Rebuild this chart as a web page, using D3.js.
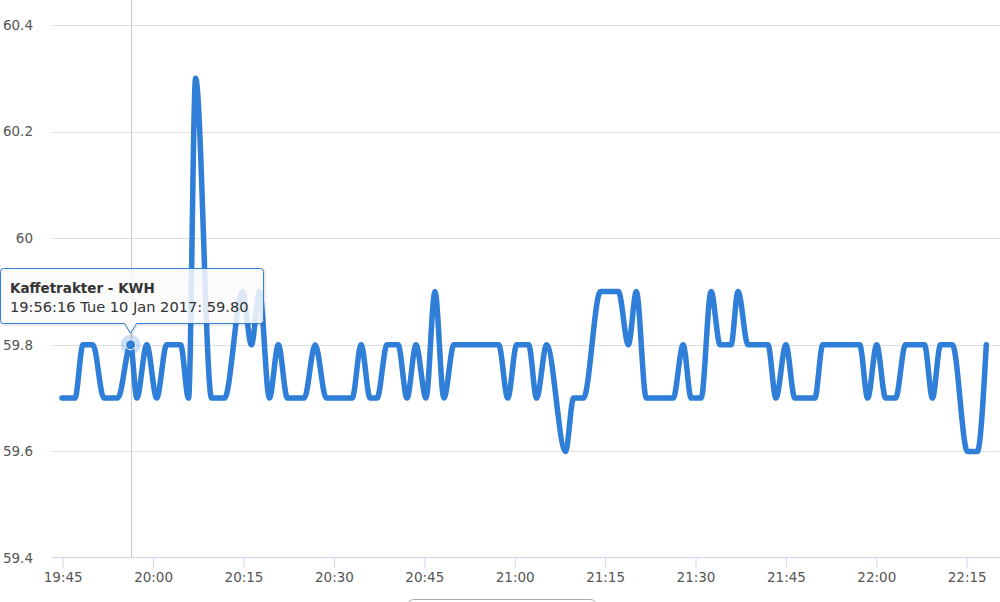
<!DOCTYPE html>
<html>
<head>
<meta charset="utf-8">
<script src="https://cdnjs.cloudflare.com/ajax/libs/d3/7.8.5/d3.min.js"></script>
<style>
    body { margin: 0; background: #fff; }
    #chart-area { width: 1000px; height: 602px; overflow: hidden; }
    text { font-family: "DejaVu Sans", sans-serif; }
</style>
</head>
<body>
<div id="chart-area"></div>
<script>
// Kaffetrakter - KWH, spline over time

////////// Data ///////////
var times = [
    "19:44:53", "19:47:02", "19:48:22", "19:50:01", "19:51:50", "19:54:09", "19:56:16", "19:57:18",
    "19:58:57", "20:00:36", "20:02:15", "20:04:34", "20:05:53", "20:07:03", "20:09:42", "20:11:51",
    "20:14:50", "20:16:19", "20:17:39", "20:19:18", "20:20:47", "20:22:17", "20:25:05", "20:26:54",
    "20:28:44", "20:33:02", "20:34:31", "20:36:01", "20:37:10", "20:38:49", "20:40:39", "20:42:08",
    "20:43:37", "20:45:17", "20:46:46", "20:48:15", "20:49:55", "20:57:21", "20:58:51", "21:00:20",
    "21:02:19", "21:03:38", "21:05:18", "21:08:26", "21:09:46", "21:11:25", "21:14:14", "21:17:12",
    "21:18:52", "21:20:11", "21:21:50", "21:26:18", "21:27:57", "21:29:17", "21:30:56", "21:32:35",
    "21:34:05", "21:35:54", "21:37:03", "21:38:43", "21:42:01", "21:43:21", "21:45:00", "21:46:29",
    "21:49:48", "21:51:07", "21:57:15", "21:58:34", "22:00:04", "22:01:33", "22:03:12", "22:04:51",
    "22:08:00", "22:09:19", "22:10:39", "22:12:38", "22:15:07", "22:16:46", "22:18:15"
];
var kwh = [
    59.7, 59.7, 59.8, 59.8, 59.7, 59.7, 59.8, 59.7,
    59.8, 59.7, 59.8, 59.8, 59.7, 60.3, 59.7, 59.7,
    59.9, 59.8, 59.9, 59.7, 59.8, 59.7, 59.7, 59.8,
    59.7, 59.7, 59.8, 59.7, 59.7, 59.8, 59.8, 59.7,
    59.8, 59.7, 59.9, 59.7, 59.8, 59.8, 59.7, 59.8,
    59.8, 59.7, 59.8, 59.6, 59.7, 59.7, 59.9, 59.9,
    59.8, 59.9, 59.7, 59.7, 59.8, 59.7, 59.7, 59.9,
    59.8, 59.8, 59.9, 59.8, 59.8, 59.7, 59.8, 59.7,
    59.7, 59.8, 59.8, 59.7, 59.8, 59.7, 59.7, 59.8,
    59.8, 59.7, 59.8, 59.8, 59.6, 59.6, 59.8
];
var yTicks = [59.4, 59.6, 59.8, 60, 60.2, 60.4];
var xTickLabels = ["19:45", "20:00", "20:15", "20:30", "20:45", "21:00", "21:15", "21:30", "21:45", "22:00", "22:15"];

var seriesName = "Kaffetrakter - KWH";
var hoverIndex = 6;

// helpers
var day = "2017-01-10T";
var parseTime = d3.timeParse("%Y-%m-%dT%H:%M:%S");
function toDate(s) { return parseTime(day + (s.length == 5 ? s + ":00" : s)); }

var data = times.map(function(t, i) {
    return { date: toDate(t), value: kwh[i] };
});

var width = 1000, height = 602;
var plotLeft = 52, plotRight = 1000;
var lineColor = "#2f7ed8";

//////////  Scales  ///////////
var x = d3.scaleTime()
    .domain([toDate("19:45"), toDate("22:15")])
    .range([62.7, 966.7]);

var y = d3.scaleLinear()
    .domain([59.4, 60.4])
    .range([558, 25]);

var svg = d3.select("#chart-area")
    .append("svg")
        .attr("width", width)
        .attr("height", height);

// Gridlines
svg.append("g")
    .attr("class", "grid")
    .selectAll("line")
    .data(yTicks.slice(1))
    .enter()
    .append("line")
        .attr("x1", plotLeft)
        .attr("x2", plotRight)
        .attr("y1", function(d){ return Math.round(y(d)) + 0.5; })
        .attr("y2", function(d){ return Math.round(y(d)) + 0.5; })
        .attr("stroke", "#e0e0e0")
        .attr("stroke-width", 1);

// Y labels
svg.append("g")
    .attr("class", "y-axis")
    .selectAll("text")
    .data(yTicks)
    .enter()
    .append("text")
        .attr("x", 33)
        .attr("y", function(d){ return y(d); })
        .attr("dy", "0.36em")
        .attr("text-anchor", "end")
        .attr("font-size", "13.5px")
        .attr("fill", "#555")
        .text(function(d){ return d3.format("")(d); });

// Crosshair behind the series
var hover = data[hoverIndex];
svg.append("line")
    .attr("x1", Math.round(x(hover.date)) + 0.5)
    .attr("x2", Math.round(x(hover.date)) + 0.5)
    .attr("y1", 0)
    .attr("y2", 558)
    .attr("stroke", "#c8c8c8")
    .attr("stroke-width", 1);

// X axis
var xAxisCall = d3.axisBottom(x)
    .tickValues(xTickLabels.map(toDate))
    .tickFormat(d3.timeFormat("%H:%M"))
    .tickSize(10)
    .tickPadding(5);

var xAxis = svg.append("g")
    .attr("class", "x axis")
    .attr("transform", "translate(0, 557.5)")
    .call(xAxisCall);

xAxis.select(".domain").remove();
xAxis.insert("line", ":first-child")
    .attr("x1", plotLeft)
    .attr("x2", plotRight)
    .attr("stroke", "#ccd6eb");
xAxis.selectAll(".tick line").attr("stroke", "#ccd6eb");
xAxis.selectAll(".tick text")
    .attr("font-family", "DejaVu Sans, sans-serif")
    .attr("font-size", "13.5px")
    .attr("fill", "#555");

// The series
var line = d3.line()
    .x(function(d){ return x(d.date); })
    .y(function(d){ return y(d.value); })
    .curve(d3.curveMonotoneX);

svg.append("path")
    .datum(data)
    .attr("d", line)
    .attr("fill", "none")
    .attr("stroke", lineColor)
    .attr("stroke-width", 5.5)
    .attr("stroke-linecap", "round")
    .attr("stroke-linejoin", "round");

// Hover halo and marker
svg.append("circle")
    .attr("cx", x(hover.date))
    .attr("cy", y(hover.value))
    .attr("r", 10)
    .attr("fill", lineColor)
    .attr("fill-opacity", 0.25);

svg.append("circle")
    .attr("cx", x(hover.date))
    .attr("cy", y(hover.value))
    .attr("r", 5)
    .attr("fill", lineColor)
    .attr("stroke", "#fff")
    .attr("stroke-width", 1);

// Tooltip
var tipX = x(hover.date), tipY = y(hover.value) - 12;
var box = { left: 0.5, top: 268.5, right: 263.5, bottom: 323.5, r: 3 };
var tipPath = "M" + (box.left + box.r) + "," + box.top +
    " L" + (box.right - box.r) + "," + box.top +
    " Q" + box.right + "," + box.top + " " + box.right + "," + (box.top + box.r) +
    " L" + box.right + "," + (box.bottom - box.r) +
    " Q" + box.right + "," + box.bottom + " " + (box.right - box.r) + "," + box.bottom +
    " L" + (tipX + 6) + "," + box.bottom +
    " L" + tipX + "," + (tipY + 0.5) +
    " L" + (tipX - 6) + "," + box.bottom +
    " L" + (box.left + box.r) + "," + box.bottom +
    " Q" + box.left + "," + box.bottom + " " + box.left + "," + (box.bottom - box.r) +
    " L" + box.left + "," + (box.top + box.r) +
    " Q" + box.left + "," + box.top + " " + (box.left + box.r) + "," + box.top + " Z";

var tip = svg.append("g").attr("class", "tooltip");
tip.append("path")
    .attr("d", tipPath)
    .attr("transform", "translate(1,1)")
    .attr("fill", "none")
    .attr("stroke", "rgba(0,0,0,0.08)")
    .attr("stroke-width", 3);
tip.append("path")
    .attr("d", tipPath)
    .attr("fill", "rgba(250,250,250,0.85)")
    .attr("stroke", lineColor)
    .attr("stroke-width", 1);

tip.append("text")
    .attr("x", 10)
    .attr("y", 293)
    .attr("font-size", "13.5px")
    .attr("font-weight", "bold")
    .attr("fill", "#333")
    .text(seriesName);

tip.append("text")
    .attr("x", 10)
    .attr("y", 311.5)
    .attr("font-size", "14.6px")
    .attr("fill", "#333")
    .text(d3.timeFormat("%H:%M:%S %a %d %b %Y")(hover.date) + ": " + d3.format(".2f")(hover.value));

// Button edge peeking at the bottom
svg.append("rect")
    .attr("x", 407.5)
    .attr("y", 599.5)
    .attr("width", 189)
    .attr("height", 20)
    .attr("rx", 6)
    .attr("fill", "#fff")
    .attr("stroke", "#aaaaaa")
    .attr("stroke-width", 1);
</script>
</body>
</html>
